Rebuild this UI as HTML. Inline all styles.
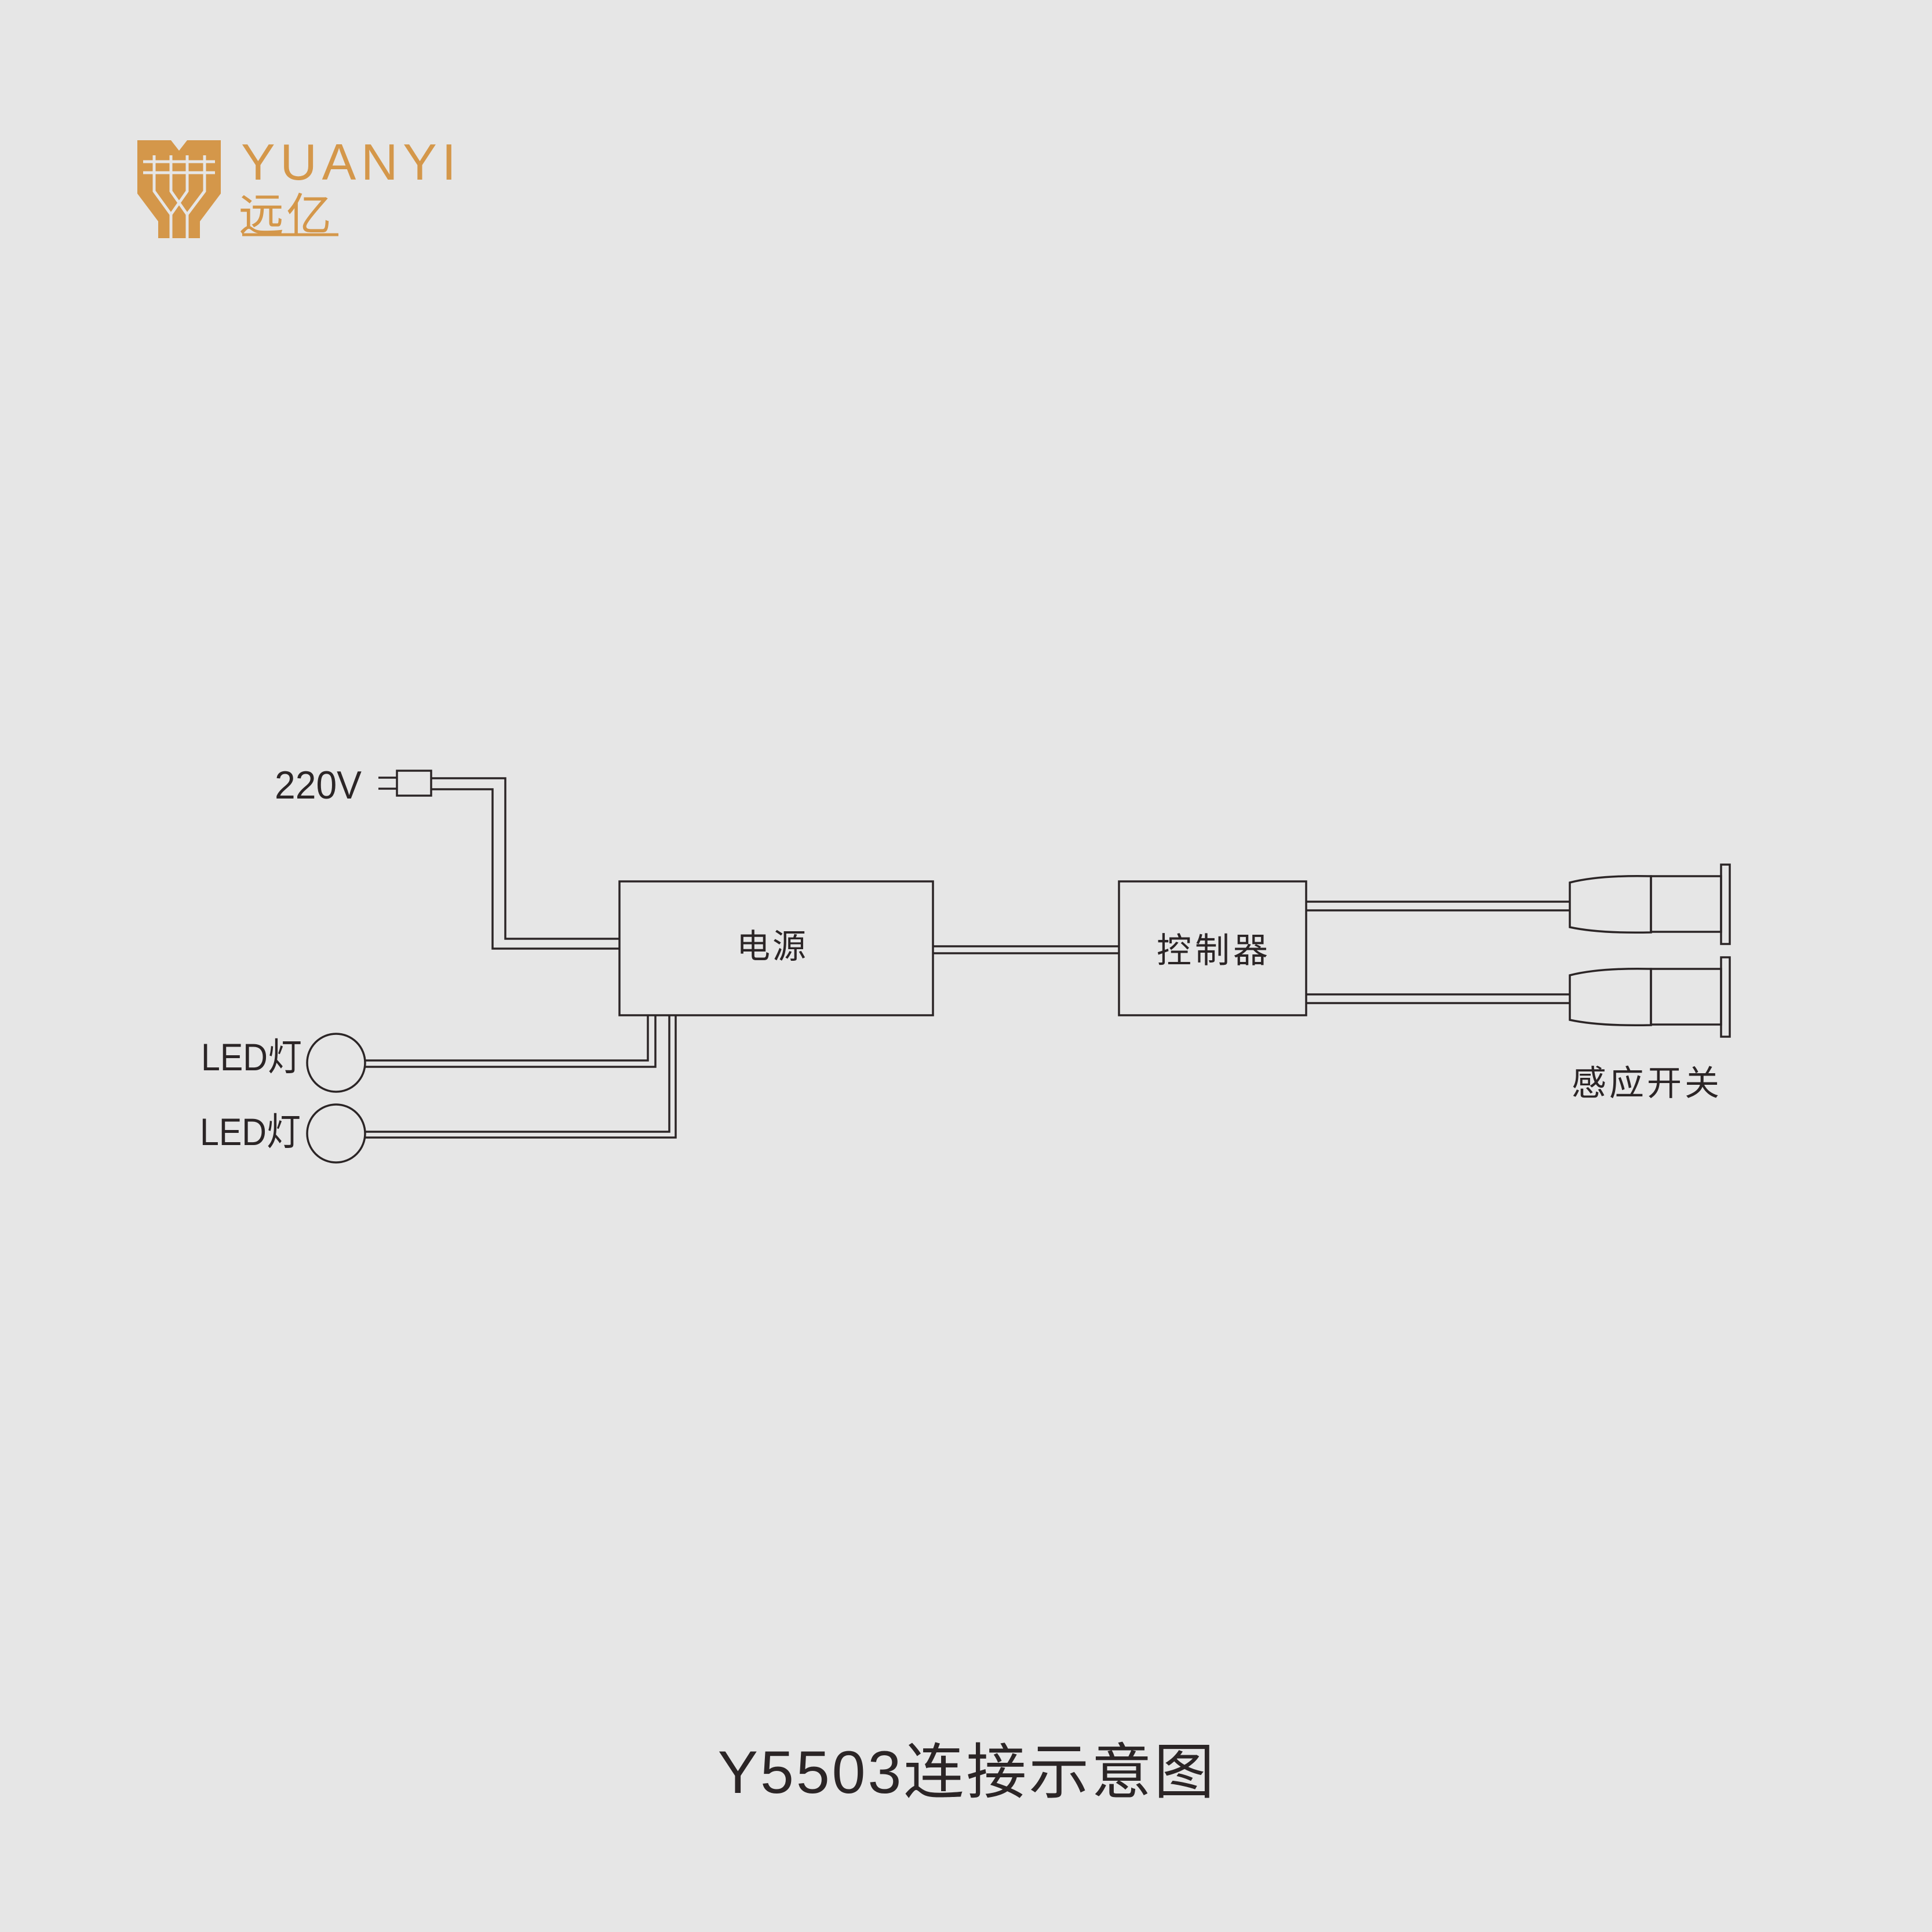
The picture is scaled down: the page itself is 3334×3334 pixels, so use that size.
<!DOCTYPE html>
<html><head><meta charset="utf-8"><style>
html,body{margin:0;padding:0;background:#e6e6e6;}
svg{display:block;}
text{font-family:"Liberation Sans","Noto Sans CJK SC",sans-serif;fill:#2b2526;}
</style></head><body>
<svg width="3334" height="3334" viewBox="0 0 3334 3334" xmlns="http://www.w3.org/2000/svg">
<rect width="3334" height="3334" fill="#e6e6e6"/>
<!-- logo -->
<g transform="translate(237,242)">
<path d="M0,0 L58,0 L72,18 L86,0 L144,0 L144,92 L108,140 L108,169 L36,169 L36,140 L0,92 Z" fill="#d4974a"/>
<g stroke="#e6e6e6" stroke-width="5" fill="none">
<line x1="10" y1="37" x2="134" y2="37"/>
<line x1="10" y1="56" x2="134" y2="56"/>
<path d="M29,26 L29,88 L58,128 L58,169"/>
<path d="M116,26 L116,88 L86,128 L86,169"/>
<path d="M58,26 L58,88 L86,128"/>
<path d="M86,26 L86,88 L58,128"/>
</g>
</g>
<text x="416" y="310" font-size="88" style="fill:#d4974a" textLength="371" lengthAdjust="spacing">YUANYI</text>
<text x="412" y="398" font-size="78" style="fill:#d4974a" letter-spacing="4">远亿</text>
<line x1="418" y1="405" x2="584" y2="405" stroke="#d4974a" stroke-width="5"/>

<g stroke="#2b2526" stroke-width="3.5" fill="none">
<rect x="685" y="1330" width="59" height="43"/>
<line x1="653" y1="1342" x2="685" y2="1342"/>
<line x1="653" y1="1361" x2="685" y2="1361"/>
<polyline points="744,1343 872,1343 872,1620 1069,1620"/>
<polyline points="744,1362 850,1362 850,1637 1069,1637"/>
<rect x="1069" y="1521" width="541" height="231"/>
<polyline points="630,1830 1118,1830 1118,1752"/>
<polyline points="630,1841 1131,1841 1131,1752"/>
<polyline points="630,1953 1155,1953 1155,1752"/>
<polyline points="630,1963 1166,1963 1166,1752"/>
<circle cx="580" cy="1834" r="50"/>
<circle cx="580" cy="1956" r="50"/>
<line x1="1610" y1="1633" x2="1931" y2="1633"/>
<line x1="1610" y1="1645" x2="1931" y2="1645"/>
<rect x="1931" y="1521" width="323" height="231"/>
<line x1="2254" y1="1556" x2="2709" y2="1556"/>
<line x1="2254" y1="1571" x2="2709" y2="1571"/>
<line x1="2254" y1="1716" x2="2709" y2="1716"/>
<line x1="2254" y1="1731" x2="2709" y2="1731"/>
<g id="s1">
<path d="M2709,1523 Q2760,1510 2849,1512 L2849,1609 Q2760,1611 2709,1600 Z"/>
<rect x="2849" y="1512" width="121" height="96"/>
<rect x="2970" y="1492" width="15" height="137"/>
</g>
<use href="#s1" transform="translate(0,160)"/>
</g>
<text x="474" y="1378" font-size="68" textLength="150" lengthAdjust="spacingAndGlyphs">220V</text>
<text x="347" y="1847" font-size="66" textLength="174" lengthAdjust="spacingAndGlyphs">LED灯</text>
<text x="345" y="1976" font-size="66" textLength="174" lengthAdjust="spacingAndGlyphs">LED灯</text>
<text x="1333" y="1653" font-size="58" text-anchor="middle" letter-spacing="4">电源</text>
<text x="2095" y="1661" font-size="60" text-anchor="middle" letter-spacing="6">控制器</text>
<text x="2712" y="1890" font-size="60" letter-spacing="5">感应开关</text>
<text x="1669" y="3094" font-size="104" text-anchor="middle" letter-spacing="4">Y5503连接示意图</text>
</svg>
</body></html>
